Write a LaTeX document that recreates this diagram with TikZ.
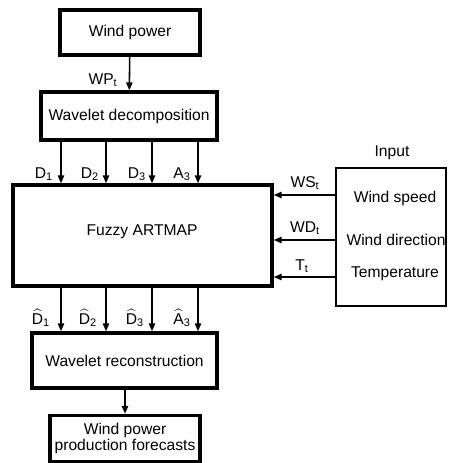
\documentclass[tikz,border=0pt]{standalone}
\usepackage{amsmath}
\usepackage{fontspec}
\setmainfont{Liberation Sans}
\usetikzlibrary{arrows.meta}

\begin{document}
\begin{tikzpicture}[x=0.64pt,y=-0.64pt,
        block/.style={draw, line width=2.2pt, inner sep=0pt, align=center},
        arr/.style={line width=1pt, -{Triangle[length=5pt,width=4pt]}},
        lbl/.style={inner sep=0pt}]
        \useasboundingbox (0,0) rectangle (448,463);

        \node[block, minimum width=140*0.64pt, minimum height=45*0.64pt] (wp) at (130,32.5) {Wind power};
        \node[block, minimum width=176*0.64pt, minimum height=48*0.64pt] (dec) at (129,116) {Wavelet decomposition};
        \node[block, minimum width=259*0.64pt, minimum height=101*0.64pt] (fz) at (142.5,235.5) {};
        \node[lbl] (fzt) at (142,232) {Fuzzy ARTMAP};
        \node[block, minimum width=185*0.64pt, minimum height=55*0.64pt] (rec) at (124.5,360.5) {Wavelet reconstruction};
        \node[block, minimum width=150*0.64pt, minimum height=46*0.64pt] (fc) at (125,438.5) {Wind power\\[-2pt]production forecasts};
        \node[draw, line width=1.6pt, minimum width=110*0.64pt, minimum height=138*0.64pt] (in) at (391,237) {};
        \node[lbl] (int) at (392,153) {Input};

        % inputs
        \node[lbl] (ws) at (395,198) {Wind speed};
        \node[lbl] (wd) at (396,240) {Wind direction};
        \node[lbl] (tp) at (395,274) {Temperature};

        % top part
        \draw[arr] (wp) -- (dec);
        \node[lbl] (wpt) at (103,80) {WP\textsubscript{t}};

        \coordinate (d1) at (61,140);
        \coordinate (d2) at (106,140);
        \coordinate (d3) at (152,140);
        \coordinate (a3) at (198,140);
        \draw[arr] (d1) -- (d1 |- fz.north);
        \draw[arr] (d2) -- (d2 |- fz.north);
        \draw[arr] (d3) -- (d3 |- fz.north);
        \draw[arr] (a3) -- (a3 |- fz.north);
        \node[lbl] (ld1) at (44,174) {D\textsubscript{1}};
        \node[lbl] (ld2) at (90,174) {D\textsubscript{2}};
        \node[lbl] (ld3) at (137,174) {D\textsubscript{3}};
        \node[lbl] (la3) at (182,174) {A\textsubscript{3}};

        % right inputs
        \coordinate (s1) at (336,195);
        \coordinate (s2) at (336,240);
        \coordinate (s3) at (336,277);
        \draw[arr] (s1) -- (s1 -| fz.east);
        \draw[arr] (s2) -- (s2 -| fz.east);
        \draw[arr] (s3) -- (s3 -| fz.east);
        \node[lbl] (lws) at (305,183) {WS\textsubscript{t}};
        \node[lbl] (lwd) at (305,228) {WD\textsubscript{t}};
        \node[lbl] (ltt) at (302,266) {T\textsubscript{t}};

        % bottom part
        \coordinate (e1) at (61,286);
        \coordinate (e2) at (106,286);
        \coordinate (e3) at (152,286);
        \coordinate (e4) at (198,286);
        \draw[arr] (e1) -- (e1 |- rec.north);
        \draw[arr] (e2) -- (e2 |- rec.north);
        \draw[arr] (e3) -- (e3 |- rec.north);
        \draw[arr] (e4) -- (e4 |- rec.north);
        \node[lbl] (le1) at (41,318) {$\widehat{\text{D}}$\textsubscript{1}};
        \node[lbl] (le2) at (88,318) {$\widehat{\text{D}}$\textsubscript{2}};
        \node[lbl] (le3) at (135,318) {$\widehat{\text{D}}$\textsubscript{3}};
        \node[lbl] (le4) at (182,318) {$\widehat{\text{A}}$\textsubscript{3}};

        \draw[arr] (rec.south -| fc.north) -- (fc.north);
\end{tikzpicture}
\end{document}
